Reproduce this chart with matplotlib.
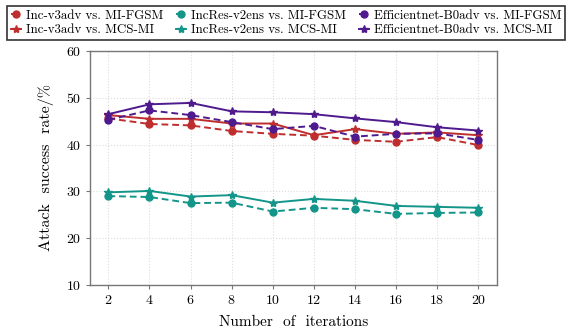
import matplotlib
matplotlib.use("Agg")
import matplotlib.pyplot as plt

plt.rcParams['font.family'] = ['cmr10', 'DejaVu Serif']
plt.rcParams['axes.formatter.use_mathtext'] = True
plt.rcParams['mathtext.fontset'] = 'cm'

iterations = [2, 4, 6, 8, 10, 12, 14, 16, 18, 20]

inc_v3_mifgsm = [45.6, 44.4, 44.1, 42.9, 42.3, 41.9, 41.0, 40.6, 41.6, 39.9]
inc_v3_mcsmi = [46.3, 45.5, 45.5, 44.5, 44.5, 42.0, 43.3, 42.3, 42.6, 42.0]
incres_mifgsm = [29.0, 28.8, 27.5, 27.6, 25.7, 26.5, 26.2, 25.2, 25.4, 25.5]
incres_mcsmi = [29.8, 30.1, 28.9, 29.2, 27.6, 28.4, 28.0, 26.9, 26.7, 26.5]
eff_mifgsm = [45.3, 47.3, 46.3, 44.8, 43.3, 44.0, 41.7, 42.3, 42.4, 41.0]
eff_mcsmi = [46.5, 48.6, 48.9, 47.1, 46.9, 46.5, 45.6, 44.8, 43.7, 43.0]

labels = [
    "Inc-v3adv vs. MI-FGSM", "Inc-v3adv vs. MCS-MI",
    "IncRes-v2ens vs. MI-FGSM", "IncRes-v2ens vs. MCS-MI",
    "Efficientnet-B0adv vs. MI-FGSM", "Efficientnet-B0adv vs. MCS-MI",
]
series = [inc_v3_mifgsm, inc_v3_mcsmi, incres_mifgsm, incres_mcsmi, eff_mifgsm, eff_mcsmi]
colors = ['#BF2E2E', '#BF2E2E', '#13958A', '#13958A', '#4E1A8E', '#4E1A8E']

fig = plt.figure(figsize=(5.69, 3.33), dpi=100)
ax = fig.add_axes([0.158, 0.144, 0.715, 0.703])

handles = []
for i, (ys, c, lab) in enumerate(zip(series, colors, labels)):
    if i % 2 == 0:
        h, = ax.plot(iterations, ys, color=c, linestyle='--', linewidth=1.4,
                     marker='o', markersize=5, label=lab, dashes=(3.5, 2))
    else:
        h, = ax.plot(iterations, ys, color=c, linestyle='-', linewidth=1.4,
                     marker='*', markersize=6, label=lab)
    handles.append(h)

ax.set_xlim(1.1, 20.9)
ax.set_ylim(10, 60)
ax.set_xticks(iterations)
ax.set_yticks([10, 20, 30, 40, 50, 60])
ax.tick_params(labelsize=10, length=3, color='#777777')
ax.grid(True, color='#DDDDDD', linestyle=':', linewidth=0.8)
for s in ax.spines.values():
    s.set_color('#777777')
    s.set_linewidth(1.0)

ax.set_xlabel("Number  of  iterations", fontsize=11, labelpad=6)
ax.set_ylabel("Attack  success  rate/%", fontsize=11.5, labelpad=8)

leg = fig.legend(handles=handles, loc='upper left', ncol=3, mode='expand',
                 bbox_to_anchor=(7 / 569, 0.0, 558 / 569, 0.982), bbox_transform=fig.transFigure,
                 fontsize=9.3, frameon=True, fancybox=False, edgecolor='black',
                 handlelength=0.8, handletextpad=0.35, columnspacing=0.5,
                 borderpad=0.3, labelspacing=0.15, borderaxespad=0.0)
leg.get_frame().set_linewidth(1.2)

fig.savefig("out.png", dpi=100)
